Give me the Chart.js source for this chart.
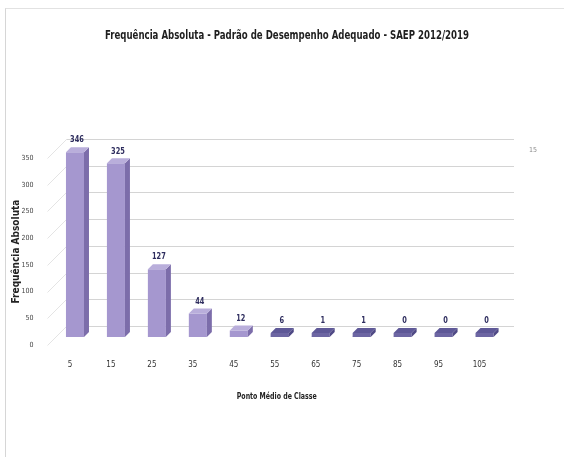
<!DOCTYPE html>
<html>
<head>
<meta charset="utf-8">
<script src="https://cdn.jsdelivr.net/npm/chart.js@4.4.1/dist/chart.umd.min.js"></script>
<style>
  html, body { margin: 0; padding: 0; background: #fff; }
  #wrap { position: relative; width: 564px; height: 457px; overflow: hidden; }
  #frame { position: absolute; left: 5px; top: 8px; width: 570px; height: 460px;
           border-left: 1px solid #d6d6d6; border-top: 1px solid #e2e2e2; }
  #chart { position: absolute; left: 0; top: 0; }
</style>
</head>
<body>
<div id="wrap">
  <div id="frame"></div>
  <canvas id="chart" width="564" height="457"></canvas>
</div>
<script>
// Ponto médio de cada classe e frequência absoluta
const classMidpoints = ['5', '15', '25', '35', '45', '55', '65', '75', '85', '95', '105'];
const absoluteFrequency = [346, 325, 127, 44, 12, 6, 1, 1, 0, 0, 0];
const yTickValues = [0, 50, 100, 150, 200, 250, 300, 350];

const chartTitle = 'Frequência Absoluta - Padrão de Desempenho Adequado - SAEP 2012/2019';
const xTitle = 'Ponto Médio de Classe';

const FONT = "'DejaVu Sans Condensed', 'DejaVu Sans', sans-serif";

// profundidade do efeito 3D
const DEPTH_X = 5, DEPTH_Y = 5;
const SHIFT_X = 5, SHIFT_Y = -8;
const WALL_X = 17, WALL_Y = -19;

// texto estreito (tipo Calibri): comprime na horizontal até a largura pedida
function narrowText(ctx, text, cx, cy, font, color, width) {
    ctx.save();
    ctx.font = font;
    ctx.fillStyle = color;
    ctx.textAlign = 'center';
    ctx.textBaseline = 'middle';
    const k = width / ctx.measureText(text).width;
    ctx.translate(cx, cy);
    ctx.scale(k, 1);
    ctx.fillText(text, 0, 0);
    ctx.restore();
}

const columns3d = {
    id: 'columns3d',
    beforeDatasetsDraw(chart) {
        const { ctx, chartArea, scales } = chart;
        // paredes: linhas de grade no fundo e diagonais na parede lateral
        ctx.save();
        ctx.lineWidth = 1;
        yTickValues.forEach(v => {
            const y = Math.round(scales.y.getPixelForValue(v)) + 0.5;
            ctx.strokeStyle = '#e4e4e4';
            ctx.beginPath();
            ctx.moveTo(chartArea.left - 2, y);
            ctx.lineTo(chartArea.left + WALL_X, y + WALL_Y);
            ctx.stroke();
            ctx.strokeStyle = '#d4d4d4';
            ctx.beginPath();
            ctx.moveTo(chartArea.left + WALL_X, y + WALL_Y);
            ctx.lineTo(chartArea.right + 14, y + WALL_Y);
            ctx.stroke();
        });
        ctx.restore();
        ctx.save();
        ctx.translate(SHIFT_X, SHIFT_Y);
    },
    afterDatasetsDraw(chart) {
        const { ctx } = chart;
        const meta = chart.getDatasetMeta(0);
        meta.data.forEach((bar, i) => {
            const half = bar.width / 2;
            const left = bar.x - half, right = bar.x + half;
            let top = bar.y;
            const base = bar.base;
            const thin = base - top < 6;
            if (base - top < 4) top = base - 4;
            if (thin) {
                ctx.fillStyle = '#6d66a3';
                ctx.fillRect(left, top, right - left, base - top);
            }
            // lateral
            ctx.fillStyle = thin ? '#4f4985' : '#7c6daa';
            ctx.beginPath();
            ctx.moveTo(right, top);
            ctx.lineTo(right + DEPTH_X, top - DEPTH_Y);
            ctx.lineTo(right + DEPTH_X, base - DEPTH_Y);
            ctx.lineTo(right, base);
            ctx.closePath();
            ctx.fill();
            // topo
            ctx.fillStyle = thin ? '#5e5897' : '#b9aedb';
            ctx.beginPath();
            ctx.moveTo(left, top);
            ctx.lineTo(left + DEPTH_X, top - DEPTH_Y);
            ctx.lineTo(right + DEPTH_X, top - DEPTH_Y);
            ctx.lineTo(right, top);
            ctx.closePath();
            ctx.fill();
            // rótulo do valor
            const label = String(absoluteFrequency[i]);
            narrowText(ctx, label, bar.x + 2, top - DEPTH_Y - 7, 'bold 9px ' + FONT, '#2e2d5e', label.length * 4.6);
        });
        ctx.restore();
    },
    afterDraw(chart) {
        const { ctx, chartArea } = chart;
        narrowText(ctx, chartTitle, 287, 36, 'bold 13px ' + FONT, '#1e1e1e', 364);
        narrowText(ctx, xTitle, (chartArea.left + chartArea.right) / 2 + 2, 397, 'bold 9px ' + FONT, '#222', 80);
        ctx.save();
        ctx.fillStyle = '#8a8a8a';
        ctx.font = '7px ' + FONT;
        ctx.textAlign = 'center';
        ctx.textBaseline = 'middle';
        ctx.fillText('15', 533, 150);
        ctx.restore();
    }
};

new Chart(document.getElementById('chart').getContext('2d'), {
    type: 'bar',
    data: {
        labels: classMidpoints,
        datasets: [{
            label: 'Frequência Absoluta',
            data: absoluteFrequency,
            backgroundColor: '#a597cf',
            borderWidth: 0,
            categoryPercentage: 1,
            barPercentage: 0.44
        }]
    },
    options: {
        responsive: false,
        devicePixelRatio: 1,
        animation: false,
        layout: { padding: { left: 0, right: 64, top: 158, bottom: 0 } },
        plugins: {
            legend: { display: false },
            tooltip: { enabled: false },
            title: { display: false }
        },
        scales: {
            x: {
                grid: { display: false },
                border: { display: false },
                ticks: { color: '#333', font: { family: FONT, size: 8 }, padding: 7 },
                afterFit(s) { s.height = 112; }
            },
            y: {
                min: 0,
                max: 350,
                grid: { display: false },
                border: { display: false },
                ticks: { stepSize: 50, color: '#444', font: { family: FONT, size: 7 }, padding: 8 },
                title: {
                    display: true,
                    text: 'Frequência Absoluta',
                    color: '#222',
                    font: { family: FONT, size: 10, weight: 'bold' },
                    padding: { top: 10, bottom: 0 }
                },
                afterFit(s) { s.width = 49.5; }
            }
        }
    },
    plugins: [columns3d]
});
</script>
</body>
</html>
